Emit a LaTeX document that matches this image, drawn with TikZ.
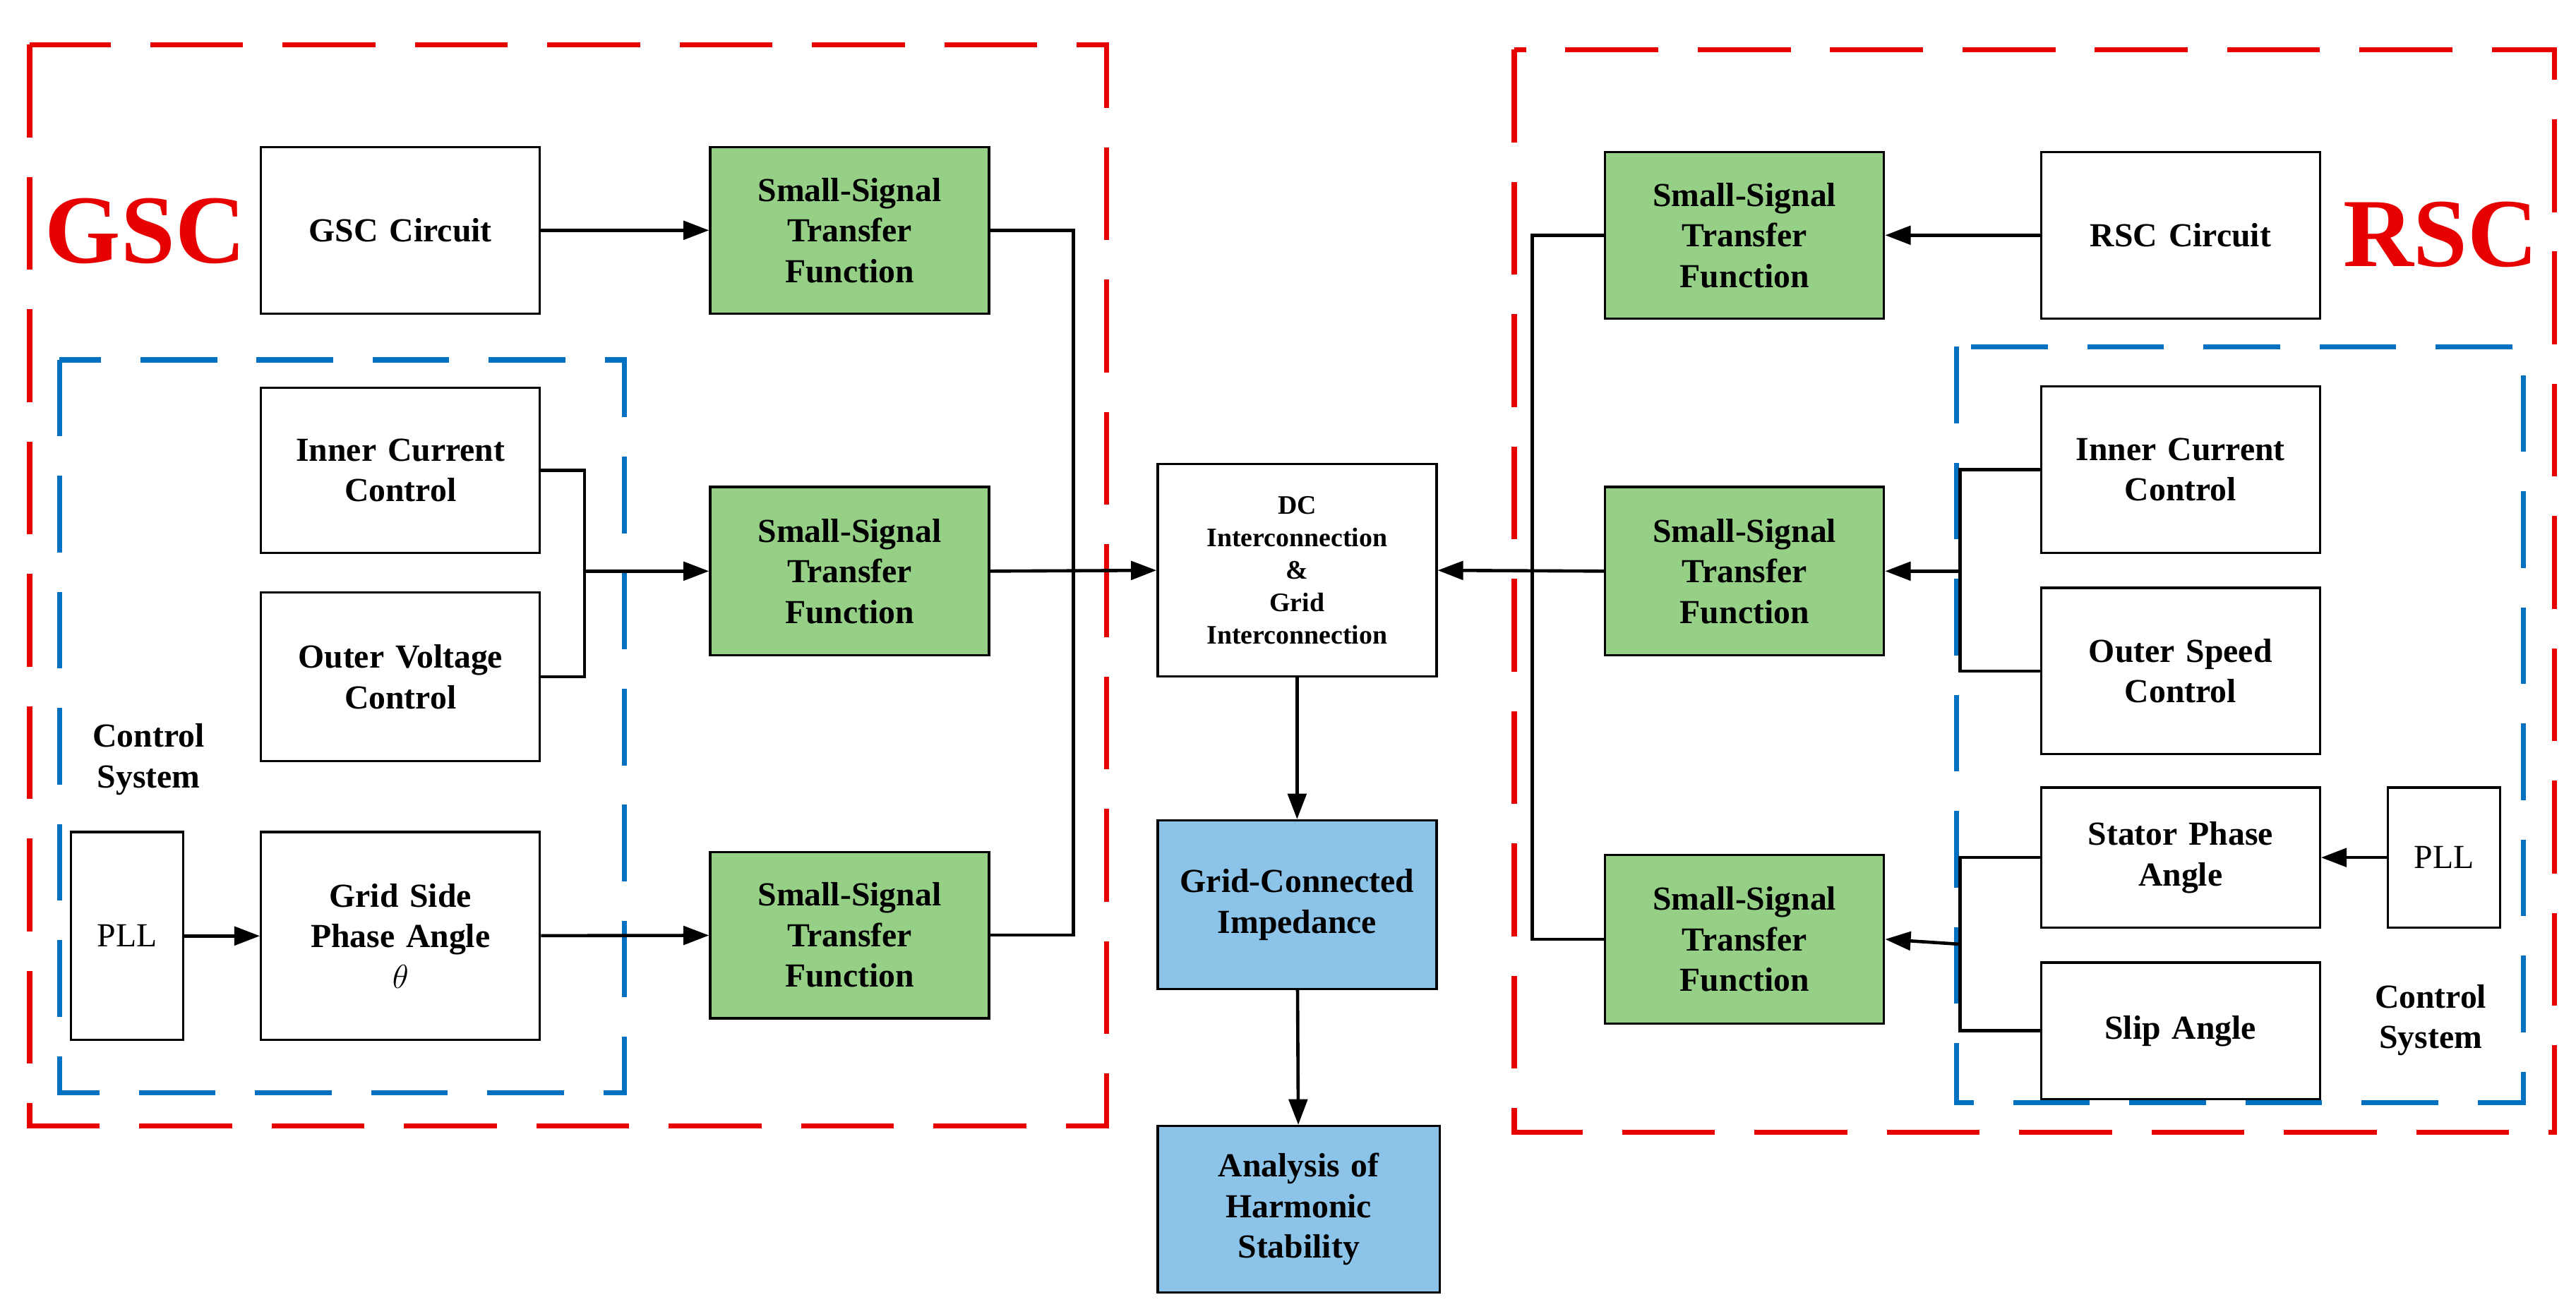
\documentclass[tikz,border=0pt]{standalone}
\usepackage{fontspec}
\setmainfont{Liberation Serif}
\usetikzlibrary{arrows.meta}
\definecolor{ssgreen}{RGB}{150,208,135}
\definecolor{impblue}{RGB}{140,195,232}
\definecolor{gscred}{RGB}{230,0,0}
\definecolor{ctrlblue}{RGB}{0,112,192}
\tikzstyle{blk} = [rectangle, draw=black, line width=1pt, fill=white, align=center, text width=4.22cm, font=\bfseries\fontsize{14.5}{17.5}\selectfont, inner sep=0pt]
\tikzstyle{ss} = [blk, fill=ssgreen]
\tikzstyle{imp} = [blk, fill=impblue]
\tikzstyle{arrow} = [line width=1.4pt, -{Triangle[length=11pt,width=8pt]}]
\tikzstyle{wire} = [line width=1.4pt]
\tikzstyle{redbox} = [draw=gscred, line width=2.2pt, dash pattern=on 40pt off 17pt]
\tikzstyle{bluebox} = [draw=ctrlblue, line width=2.2pt, dash pattern=on 33pt off 17pt]
\begin{document}
\begin{tikzpicture}[x=0.025cm,y=-0.025cm]
\useasboundingbox (0,0) rectangle (1560,796);
% frames
\draw[redbox] (18,27) rectangle (670,682);
\draw[redbox] (917,30) rectangle (1547,686);
\draw[bluebox] (36,218) rectangle (378,662);
\draw[bluebox] (1185,210) rectangle (1528,668);
\node[text=gscred, font=\bfseries\fontsize{42}{42}\selectfont] (gsc) at (88,140) {GSC};
\node[text=gscred, font=\bfseries\fontsize{42}{42}\selectfont] (rsc) at (1478,142) {RSC};
\node[align=center, font=\bfseries\fontsize{14.5}{17.5}\selectfont] (csl) at (90,460) {Control\\System};
\node[align=center, font=\bfseries\fontsize{14.5}{17.5}\selectfont] (csr) at (1472,618) {Control\\System};
% left side
\node[blk, minimum height=2.52cm] (gcirc) at (242.5,139.5) {GSC Circuit};
\node[blk, minimum height=2.5cm] (gicc) at (242.5,285) {Inner Current\\Control};
\node[blk, minimum height=2.55cm] (govc) at (242.5,410) {Outer Voltage\\Control};
\node[blk, minimum height=3.15cm] (gang) at (242.5,567) {Grid Side\\Phase Angle\\$\theta$};
\node[blk, text width=1.7cm, minimum height=3.15cm, font=\fontsize{14.5}{17.5}\selectfont] (gpll) at (77,567) {PLL};
\node[ss, minimum height=2.52cm] (gss1) at (514.5,139.5) {Small-Signal\\Transfer\\Function};
\node[ss, minimum height=2.55cm] (gss2) at (514.5,346) {Small-Signal\\Transfer\\Function};
\node[ss, minimum height=2.52cm] (gss3) at (514.5,566.5) {Small-Signal\\Transfer\\Function};
% center
\node[blk, minimum height=3.22cm, font=\bfseries\fontsize{11.5}{14}\selectfont] (dc) at (785.5,345.5) {DC\\Interconnection\\\&\\Grid\\Interconnection};
\node[imp, minimum height=2.55cm] (gimp) at (785.5,548) {Grid-Connected\\Impedance};
\node[imp, text width=4.27cm, minimum height=2.52cm] (ahs) at (786.5,732.5) {Analysis of\\Harmonic\\Stability};
% right side
\node[ss, minimum height=2.52cm] (rss1) at (1056.5,142.5) {Small-Signal\\Transfer\\Function};
\node[ss, minimum height=2.55cm] (rss2) at (1056.5,346) {Small-Signal\\Transfer\\Function};
\node[ss, minimum height=2.55cm] (rss3) at (1056.5,569) {Small-Signal\\Transfer\\Function};
\node[blk, minimum height=2.52cm] (rcirc) at (1320.5,142.5) {RSC Circuit};
\node[blk, minimum height=2.52cm] (ricc) at (1320.5,284.5) {Inner Current\\Control};
\node[blk, minimum height=2.52cm] (rosc) at (1320.5,406.5) {Outer Speed\\Control};
\node[blk, minimum height=2.12cm] (rspa) at (1320.5,519.5) {Stator Phase\\Angle};
\node[blk, minimum height=2.07cm] (rsla) at (1320.5,624.5) {Slip Angle};
\node[blk, text width=1.7cm, minimum height=2.12cm, font=\fontsize{14.5}{17.5}\selectfont] (rpll) at (1480,519.5) {PLL};
% left connectors
\draw[arrow] (gcirc) -- (gss1);
\draw[arrow] (gpll) -- (gang);
\draw[arrow] (gang) -- (gss3);
\draw[wire] (gicc.east) -| (354,346) |- (govc.east);
\draw[arrow] (354,346) -- (gss2.west);
\draw[wire] (gss1.east) -| (650,346);
\draw[wire] (gss3.east) -| (650,346);
\draw[arrow] (gss2.east) -- (dc.west);
% center connectors
\draw[arrow] (dc) -- (gimp);
\draw[arrow] (gimp) -- (ahs);
% right connectors
\draw[arrow] (rcirc) -- (rss1);
\draw[arrow] (rpll) -- (rspa);
\draw[wire] (ricc.west) -| (1187,346) |- (rosc.west);
\draw[arrow] (1187,346) -- (rss2.east);
\draw[wire] (rspa.west) -| (1187,572) |- (rsla.west);
\draw[arrow] (1187,572) -- (rss3.east);
\draw[wire] (rss1.west) -| (928,346);
\draw[wire] (rss3.west) -| (928,346);
\draw[arrow] (rss2.west) -- (dc.east);
\end{tikzpicture}
\end{document}
